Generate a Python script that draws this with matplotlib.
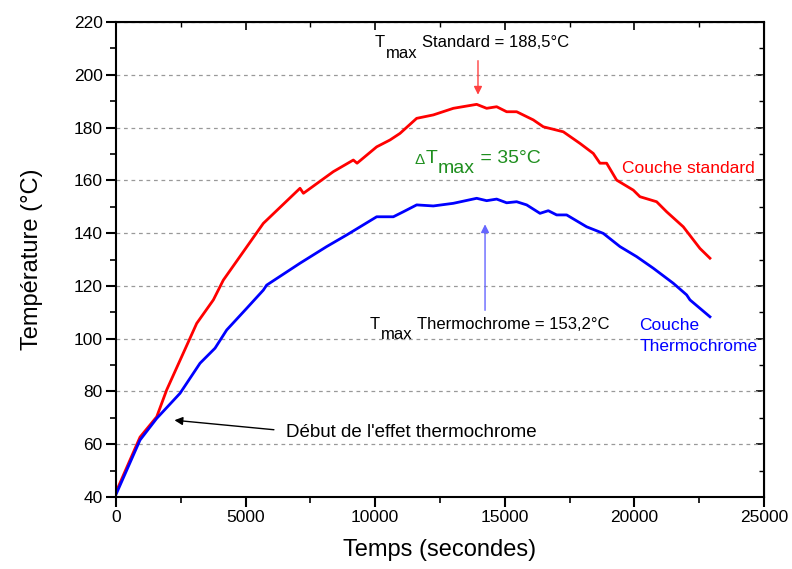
import matplotlib
matplotlib.use("Agg")
import matplotlib.pyplot as plt
from matplotlib.ticker import MultipleLocator

plt.rcParams['font.family'] = ['Liberation Sans', 'DejaVu Sans']

# Data
t_std = [0, 926, 1570, 1955, 3113, 3755, 4140, 5683, 7099, 7230, 8384, 9156, 9300, 10057, 10571,
         10957, 11600, 12243, 13015, 13915, 14300, 14686, 15072, 15458, 16101, 16487, 17258,
         17901, 18415, 18672, 18929, 19315, 19958, 20215, 20858, 21244, 21887, 22530, 22916]
T_std = [41.9, 62.7, 70.4, 80.6, 105.8, 114.7, 122.2, 143.7, 157.0, 155.1, 163.3, 167.7, 166.5, 172.7, 175.3,
         177.8, 183.5, 184.8, 187.3, 188.8, 187.3, 187.9, 186.0, 186.0, 182.9, 180.3, 178.4,
         174.0, 170.2, 166.5, 166.5, 160.1, 156.3, 153.8, 151.9, 148.1, 142.4, 134.2, 130.5]

t_th = [0, 926, 1570, 2469, 3241, 3820, 4270, 5041, 5683, 5812, 7099, 8127, 8899, 10057, 10700,
        11086, 11600, 12243, 13015, 13915, 14300, 14686, 15072, 15458, 15844, 16358, 16679,
        17001, 17387, 18158, 18801, 19444, 20087, 20730, 21501, 22016, 22145, 22916]
T_th = [41.0, 61.6, 69.8, 79.3, 90.7, 96.4, 103.3, 111.5, 118.4, 120.3, 128.6, 134.9, 139.3, 146.2, 146.2,
        148.1, 150.7, 150.3, 151.3, 153.2, 152.3, 152.9, 151.5, 151.9, 150.7, 147.5, 148.5,
        146.9, 146.9, 142.4, 139.9, 134.9, 131.1, 126.7, 121.0, 116.6, 114.7, 108.3]

fig = plt.figure(figsize=(7.92, 5.69), dpi=100)
ax = fig.add_axes([0.1465, 0.1265, 0.8181, 0.8348])

ax.plot(t_std, T_std, color='#ff0000', lw=2)
ax.plot(t_th, T_th, color='#0000ff', lw=2)

ax.set_xlim(0, 25000)
ax.set_ylim(40, 220)
ax.xaxis.set_major_locator(MultipleLocator(5000))
ax.xaxis.set_minor_locator(MultipleLocator(2500))
ax.yaxis.set_major_locator(MultipleLocator(20))
ax.yaxis.set_minor_locator(MultipleLocator(10))
ax.grid(axis='y', which='major', linestyle=(0, (3, 3)), color='#999999', lw=0.9)
ax.set_axisbelow(True)
ax.tick_params(which='major', direction='out', length=7, width=1.5, labelsize=12.5, pad=2.5)
ax.tick_params(which='minor', direction='out', length=4, width=1.2)
for s in ax.spines.values():
    s.set_linewidth(1.5)

sx = ax.secondary_xaxis('top')
sx.xaxis.set_major_locator(MultipleLocator(5000))
sx.xaxis.set_minor_locator(MultipleLocator(2500))
sx.tick_params(which='major', direction='in', length=6, width=1.2, labeltop=False)
sx.tick_params(which='minor', direction='in', length=3.5, width=1.0)
sy = ax.secondary_yaxis('right')
sy.yaxis.set_major_locator(MultipleLocator(20))
sy.yaxis.set_minor_locator(MultipleLocator(10))
sy.tick_params(which='major', direction='in', length=6, width=1.2, labelright=False)
sy.tick_params(which='minor', direction='in', length=3.5, width=1.0)

ax.set_xlabel('Temps (secondes)', fontsize=17, labelpad=10)
ax.set_ylabel('Température (°C)', fontsize=17, labelpad=22)


def chain(x, y, parts, color='black'):
    """parts: list of (text, fontsize, dx_pt, dy_pt) chained left to right."""
    prev = None
    for s, fs, dx, dy in parts:
        if prev is None:
            prev = ax.annotate(s, xy=(x, y), xycoords='data', xytext=(dx, dy),
                               textcoords='offset points', fontsize=fs, color=color,
                               ha='left', va='baseline')
        else:
            prev = ax.annotate(s, xy=(1, 0), xycoords=prev, xytext=(dx, dy),
                               textcoords='offset points', fontsize=fs, color=color,
                               ha='left', va='bottom')
    return prev


# Annotations
chain(9993, 209.4, [('T', 12, 0, 2), ('max', 12, 0.5, -7.5), ('Standard = 188,5°C', 12, 3.5, 7.5)])
ax.annotate('', xy=(13966, 191.4), xytext=(13966, 206.4),
            arrowprops=dict(arrowstyle='-|>', color='#ff4040', lw=1, mutation_scale=12))

chain(11535, 166.2, [('Δ', 11, 0, 0), ('T', 14, 0, 0), ('max', 14, 0.3, -7), (' = 35°C', 14, 0, 7)],
      color='#1f8f1f')

ax.annotate('', xy=(14238, 144.4), xytext=(14238, 109.7),
            arrowprops=dict(arrowstyle='-|>', color='#6666ff', lw=1, mutation_scale=12))
chain(9800, 102.6, [('T', 12, 0, 2), ('max', 12, 0.5, -7.5), ('Thermochrome = 153,2°C', 12, 3.5, 7.5)])

ax.text(6559, 62.7, "Début de l'effet thermochrome", fontsize=13.5, ha='left', va='baseline')
ax.annotate('', xy=(2148, 69.2), xytext=(6199, 65.4),
            arrowprops=dict(arrowstyle='-|>', color='black', lw=1, mutation_scale=12))

ax.text(19522, 162.8, 'Couche standard', fontsize=12.5, color='#ff0000', ha='left', va='baseline')
ax.text(20190, 103.3, 'Couche', fontsize=12.5, color='#0000ff', ha='left', va='baseline')
ax.text(20190, 95.3, 'Thermochrome', fontsize=12.5, color='#0000ff', ha='left', va='baseline')

fig.savefig('out.png', dpi=100)
